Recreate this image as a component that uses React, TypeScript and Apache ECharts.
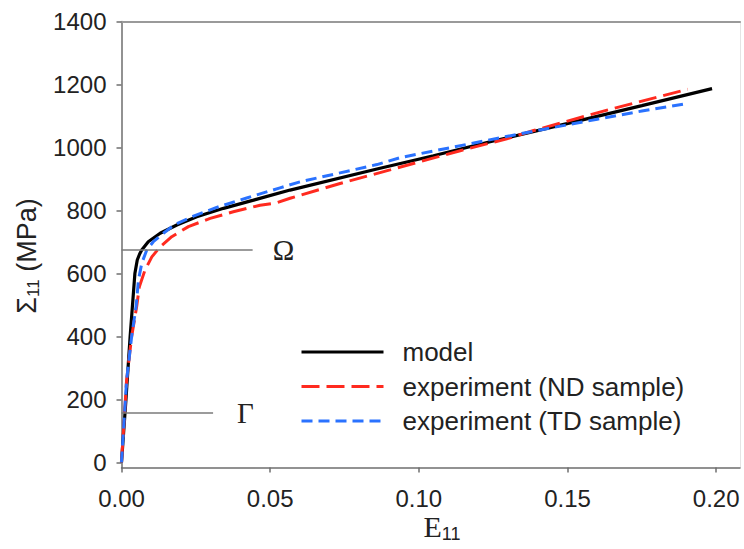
import React, { useEffect, useRef } from "react";
import * as echarts from "echarts";

// ---- data (strain E11, stress Σ11 in MPa) ----
const modelStrain = [0, 0.0015, 0.0029, 0.0045, 0.0053, 0.0061, 0.0068, 0.009, 0.013, 0.0186, 0.0253, 0.0343, 0.0444, 0.0567, 0.0859, 0.1049, 0.1229, 0.1498, 0.175, 0.1986];
const modelStress = [0, 200, 400, 600, 643, 662, 675, 701, 728, 754, 780, 807, 833, 865, 932, 974, 1016, 1076, 1133, 1187];

const ndStrain = [0, 0.0017, 0.0034, 0.0051, 0.006, 0.0079, 0.0102, 0.013, 0.0169, 0.0225, 0.0298, 0.0376, 0.0466, 0.052, 0.0567, 0.0735, 0.0903, 0.1139, 0.1296, 0.1386, 0.1633, 0.1904];
const ndStress = [0, 260, 399, 495, 558, 611, 653, 685, 717, 749, 775, 796, 817, 824, 839, 886, 929, 990, 1028, 1054, 1119, 1185];

const tdStrain = [0, 0.0017, 0.0034, 0.0049, 0.0057, 0.0068, 0.0085, 0.0107, 0.0141, 0.018, 0.0242, 0.032, 0.0421, 0.0533, 0.06, 0.0859, 0.0937, 0.1161, 0.1273, 0.1408, 0.16, 0.175, 0.1902];
const tdStress = [0, 260, 399, 495, 579, 632, 675, 701, 728, 756, 782, 810, 840, 872, 891, 946, 968, 1010, 1031, 1056, 1090, 1116, 1140];

const seriesNames = ["model", "experiment (ND sample)", "experiment (TD sample)"];

const xTicks = [0, 0.05, 0.1, 0.15, 0.2];
const yTicks = [0, 200, 400, 600, 800, 1000, 1200, 1400];

// annotation levels (Ω, Γ)
const annotationLabels = ["Ω", "Γ"];
const annotationStress = [675, 158];
const annotationEnd = [0.0441, 0.0308];

const SANS = "'Liberation Sans', Arial, sans-serif";
const SERIF = "'Liberation Serif', 'Times New Roman', serif";

function zip(xs: number[], ys: number[]) {
  return xs.map((x, i) => [x, ys[i]]);
}

export default function App() {
  const ref = useRef<HTMLDivElement>(null);
  useEffect(() => {
    if (!ref.current) return;
    const chart = echarts.init(ref.current, null, { renderer: "svg" });
    const axisColor = "#6e6e6e";
    const option: any = {
      animation: false,
      grid: { left: 121.5, top: 21.6, right: 4, bottom: 81.5 },
      xAxis: [
        {
          type: "value",
          min: 0,
          max: 0.208,
          position: "bottom",
          axisLine: { show: true, onZero: false, lineStyle: { color: axisColor, width: 1.5 } },
          axisTick: { show: true, length: 5, customValues: xTicks, lineStyle: { color: axisColor, width: 1.5 } },
          axisLabel: {
            customValues: xTicks,
            formatter: (v: number) => v.toFixed(2),
            margin: 19,
            fontSize: 24,
            color: "#222",
            fontFamily: SANS,
          },
          splitLine: { show: false },
        },
        {
          type: "value",
          min: 0,
          max: 0.208,
          position: "top",
          axisLine: { show: true, onZero: false, lineStyle: { color: "#9a9a9a", width: 2 } },
          axisTick: { show: false },
          axisLabel: { show: false },
          splitLine: { show: false },
        },
      ],
      yAxis: [
        {
          type: "value",
          min: -16,
          max: 1400,
          axisLine: { show: true, onZero: false, lineStyle: { color: axisColor, width: 1.5 } },
          axisTick: { show: true, length: 5, customValues: yTicks, lineStyle: { color: axisColor, width: 1.5 } },
          axisLabel: {
            customValues: yTicks,
            formatter: (v: number) => String(v),
            margin: 15,
            fontSize: 24,
            color: "#222",
            fontFamily: SANS,
          },
          splitLine: { show: false },
        },
        {
          type: "value",
          min: -16,
          max: 1400,
          position: "right",
          axisLine: { show: true, onZero: false, lineStyle: { color: "#e4e4e4", width: 1 } },
          axisTick: { show: false },
          axisLabel: { show: false },
          splitLine: { show: false },
        },
      ],
      legend: {
        data: seriesNames,
        orient: "vertical",
        left: 300,
        top: 339,
        padding: 0,
        itemWidth: 82,
        itemHeight: 1,
        itemGap: 8.5,
        lineStyle: { width: 3 },
        itemStyle: { opacity: 0 },
        textStyle: { fontSize: 26, color: "#222", fontFamily: SANS, padding: [0, 0, 0, 14] },
      },
      series: [
        {
          name: seriesNames[0],
          type: "line",
          data: zip(modelStrain, modelStress),
          symbol: "none",
          lineStyle: { color: "#000", width: 3.2, type: "solid" },
          itemStyle: { color: "#000" },
          z: 2,
          markLine: {
            silent: true,
            symbol: "none",
            lineStyle: { color: "#7a7a7a", width: 1.5, type: "solid" },
            label: {
              show: true,
              position: "end",
              formatter: "{b}",
              fontFamily: SERIF,
              fontSize: 29,
              color: "#222",
            },
            data: annotationLabels.map((name, i) => [
              {
                name,
                coord: [0, annotationStress[i]],
                label: i === 0 ? { distance: 20, padding: [10, 0, 0, 0] } : { distance: 24 },
              },
              { coord: [annotationEnd[i], annotationStress[i]] },
            ]),
          },
        },
        {
          name: seriesNames[1],
          type: "line",
          data: zip(ndStrain, ndStress),
          symbol: "none",
          lineStyle: { color: "#ff2a1f", width: 3, type: [18, 7] },
          itemStyle: { color: "#ff2a1f" },
          z: 3,
        },
        {
          name: seriesNames[2],
          type: "line",
          data: zip(tdStrain, tdStress),
          symbol: "none",
          lineStyle: { color: "#2a72ff", width: 3, type: [11, 6] },
          itemStyle: { color: "#2a72ff" },
          z: 4,
        },
      ],
      graphic: [
        {
          type: "text",
          x: 27,
          y: 256,
          rotation: Math.PI / 2,
          style: {
            text: "{a|Σ}{b|11}{c| (MPa)}",
            align: "center",
            verticalAlign: "middle",
            fill: "#222",
            rich: {
              a: { fontSize: 27, fontFamily: SANS, lineHeight: 30, fill: "#222" },
              b: { fontSize: 17, fontFamily: SANS, lineHeight: 12, verticalAlign: "bottom", fill: "#222" },
              c: { fontSize: 27, fontFamily: SANS, lineHeight: 30, fill: "#222" },
            },
          },
        },
        {
          type: "text",
          x: 442,
          y: 526,
          style: {
            text: "{e|E}{s|11}",
            align: "center",
            verticalAlign: "middle",
            fill: "#222",
            rich: {
              e: { fontSize: 30, fontFamily: SERIF, lineHeight: 34, fill: "#222" },
              s: { fontSize: 18, fontFamily: SANS, lineHeight: 13, verticalAlign: "bottom", fill: "#222" },
            },
          },
        },
      ],
    };
    chart.setOption(option);
    return () => chart.dispose();
  }, []);
  return (
    <div
      ref={ref}
      style={{ position: "fixed", left: 0, top: 0, width: 744, height: 549, background: "#fff" }}
    />
  );
}
